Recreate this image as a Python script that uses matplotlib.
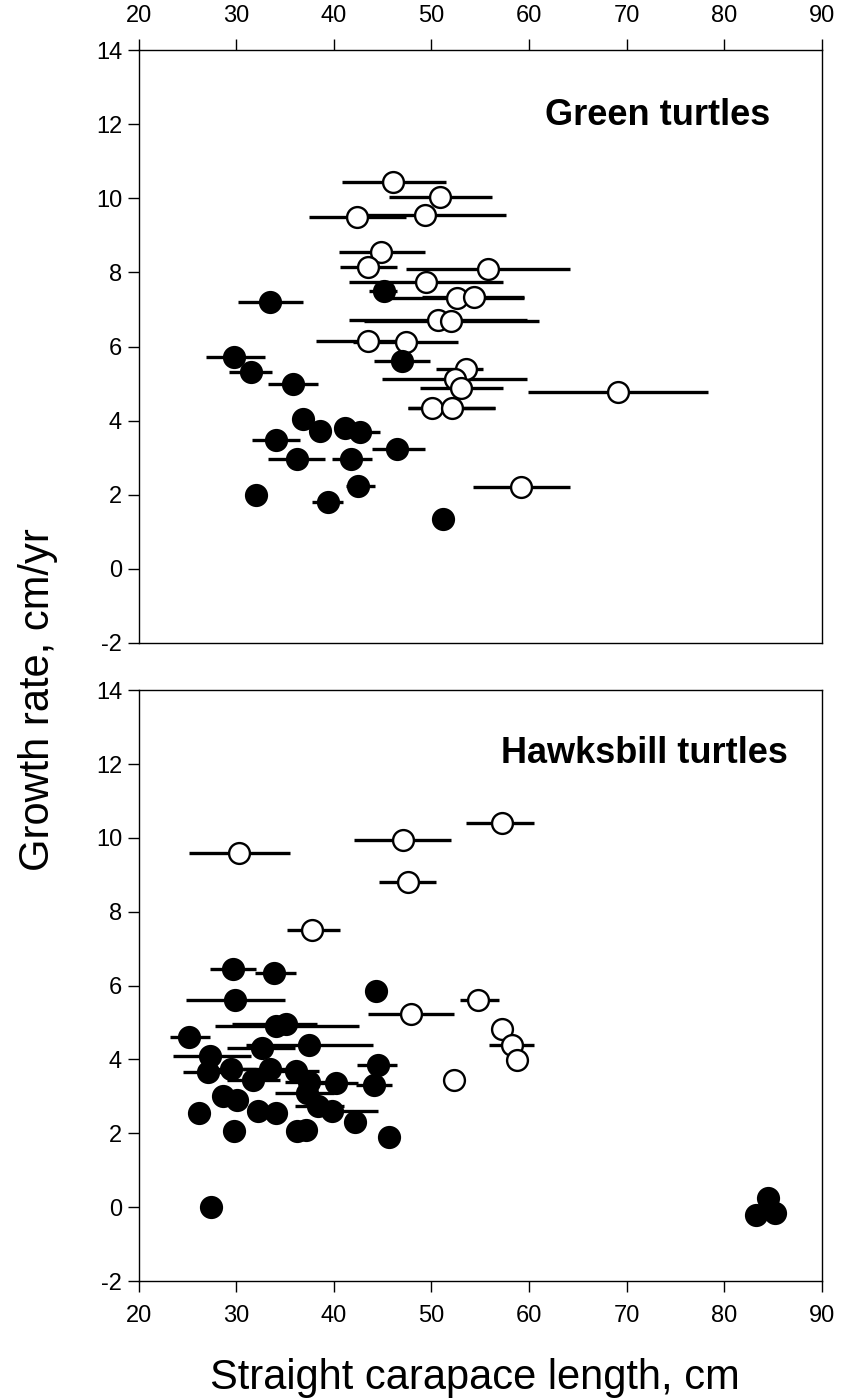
import numpy as np
import matplotlib
matplotlib.use('Agg')
import matplotlib.pyplot as plt

plt.rcParams['font.family'] = ['Liberation Sans', 'DejaVu Sans']
plt.rcParams['axes.unicode_minus'] = False

# ---- Green turtles: open circles (x, y, error-bar low/high of x)
g_open_x = [46.1, 50.9, 49.3, 42.4, 44.8, 43.5, 55.8, 49.4, 52.6, 54.4, 50.7, 52.0,
            43.5, 47.4, 53.5, 52.4, 53.0, 69.1, 50.1, 52.1, 59.2]
g_open_y = [10.45, 10.05, 9.55, 9.5, 8.55, 8.15, 8.1, 7.75, 7.3, 7.35, 6.72, 6.68,
            6.15, 6.12, 5.38, 5.12, 4.88, 4.78, 4.35, 4.35, 2.2]
g_open_lo = [40.8, 45.7, 41.5, 37.5, 40.5, 40.6, 47.4, 41.6, 45.5, 49.0, 41.5, 43.1,
             38.2, 42.0, 50.5, 44.9, 48.8, 59.9, 47.6, 47.6, 54.3]
g_open_hi = [51.5, 56.2, 57.6, 47.4, 49.3, 46.5, 64.2, 57.3, 59.5, 59.5, 59.8, 61.0,
             48.0, 52.7, 55.3, 59.8, 57.3, 78.3, 56.5, 56.5, 64.2]

# ---- Green turtles: filled circles
g_fill_x = [33.5, 45.1, 29.8, 31.5, 35.8, 47.0, 36.8, 38.6, 41.1, 42.7, 34.1, 36.2,
            41.8, 46.5, 32.0, 42.5, 39.4, 51.2]
g_fill_y = [7.2, 7.5, 5.72, 5.3, 5.0, 5.6, 4.05, 3.72, 3.8, 3.7, 3.47, 2.97,
            2.95, 3.22, 2.0, 2.23, 1.8, 1.35]
g_fill_lo = [30.2, 43.6, 26.9, 29.3, 33.2, 44.1, 36.8, 37.5, 41.1, 41.0, 31.6, 33.2,
             39.8, 43.9, 32.0, 41.2, 37.8, 51.2]
g_fill_hi = [36.8, 46.5, 32.9, 33.7, 38.4, 49.9, 36.8, 39.5, 41.1, 44.7, 36.5, 39.1,
             43.9, 49.3, 32.0, 44.2, 40.9, 51.2]

# ---- Hawksbill turtles: open circles
h_open_x = [30.3, 47.1, 57.2, 47.6, 37.8, 54.8, 47.9, 57.2, 58.3, 58.8, 52.3]
h_open_y = [9.6, 9.95, 10.4, 8.8, 7.5, 5.62, 5.22, 4.82, 4.4, 3.98, 3.44]
h_open_lo = [25.1, 42.1, 53.5, 44.6, 35.2, 52.9, 43.5, 57.2, 55.9, 58.8, 52.3]
h_open_hi = [35.5, 52.0, 60.5, 50.5, 40.6, 56.9, 52.3, 57.2, 60.5, 58.8, 52.3]

# ---- Hawksbill turtles: filled circles
h_fill_x = [29.7, 33.9, 29.9, 44.3, 25.2, 34.1, 35.1, 37.4, 27.3, 32.6, 27.1, 29.5,
            31.7, 33.5, 36.1, 37.5, 37.2, 40.2, 38.4, 39.8, 44.5, 44.1, 28.6, 30.1,
            26.2, 32.2, 34.1, 29.8, 36.2, 37.1, 42.2, 45.6, 27.4, 83.3, 84.5, 85.2]
h_fill_y = [6.45, 6.35, 5.6, 5.85, 4.6, 4.9, 4.95, 4.4, 4.1, 4.3, 3.65, 3.75,
            3.45, 3.75, 3.7, 3.4, 3.1, 3.35, 2.75, 2.6, 3.85, 3.3, 3.0, 2.9,
            2.55, 2.6, 2.55, 2.05, 2.05, 2.1, 2.3, 1.9, 0.0, -0.2, 0.25, -0.15]
h_fill_lo = [27.3, 31.9, 24.8, 44.3, 23.2, 27.8, 29.6, 31.0, 23.5, 29.0, 24.5, 27.0,
             29.0, 30.5, 33.5, 35.0, 34.0, 38.0, 36.0, 37.5, 42.4, 42.3, 28.6, 30.1,
             26.2, 32.2, 34.1, 29.8, 36.2, 37.1, 42.2, 45.6, 27.4, 83.3, 84.5, 85.2]
h_fill_hi = [32.0, 36.1, 35.0, 44.3, 27.3, 42.6, 38.3, 44.0, 31.5, 36.0, 29.5, 32.0,
             34.5, 36.5, 38.5, 40.5, 40.0, 42.5, 41.0, 44.5, 46.5, 46.0, 28.6, 30.1,
             26.2, 32.2, 34.1, 29.8, 36.2, 37.1, 42.2, 45.6, 27.4, 83.3, 84.5, 85.2]

x_ticks = [20, 30, 40, 50, 60, 70, 80, 90]
y_ticks = [-2, 0, 2, 4, 6, 8, 10, 12, 14]


def draw_group(ax, x, y, lo, hi, face):
    x = np.array(x)
    xerr = [x - np.array(lo), np.array(hi) - x]
    ax.errorbar(x, y, xerr=xerr, fmt='o', ms=15, mfc=face, mec='black',
                mew=1.7, ecolor='black', elinewidth=2.4, capsize=0, zorder=3)


fig = plt.figure(figsize=(8.41, 14), dpi=100)
ax1 = fig.add_axes([0.165, 0.541, 0.812, 0.423])
ax2 = fig.add_axes([0.165, 0.085, 0.812, 0.422])

draw_group(ax1, g_open_x, g_open_y, g_open_lo, g_open_hi, 'white')
draw_group(ax1, g_fill_x, g_fill_y, g_fill_lo, g_fill_hi, 'black')
draw_group(ax2, h_open_x, h_open_y, h_open_lo, h_open_hi, 'white')
draw_group(ax2, h_fill_x, h_fill_y, h_fill_lo, h_fill_hi, 'black')

for ax in (ax1, ax2):
    ax.set_xlim(20, 90)
    ax.set_ylim(-2, 14)
    ax.set_xticks(x_ticks)
    ax.set_yticks(y_ticks)
    ax.tick_params(axis='x', direction='out', length=8, width=1, labelsize=17, pad=9)
    ax.tick_params(axis='y', direction='out', length=8, width=1, labelsize=17, pad=4)
    for s in ax.spines.values():
        s.set_linewidth(1)

ax1.xaxis.tick_top()
ax2.xaxis.tick_bottom()

ax1.text(0.76, 0.89, 'Green turtles', transform=ax1.transAxes, ha='center',
         va='center', fontsize=26, fontweight='bold')
ax2.text(0.74, 0.893, 'Hawksbill turtles', transform=ax2.transAxes, ha='center',
         va='center', fontsize=26, fontweight='bold')

fig.text(0.565, 0.016, 'Straight carapace length, cm', ha='center', va='center',
         fontsize=30)
fig.text(0.045, 0.5, 'Growth rate, cm/yr', rotation=90, ha='center',
         va='center', fontsize=30)

fig.savefig('out.png', dpi=100)
